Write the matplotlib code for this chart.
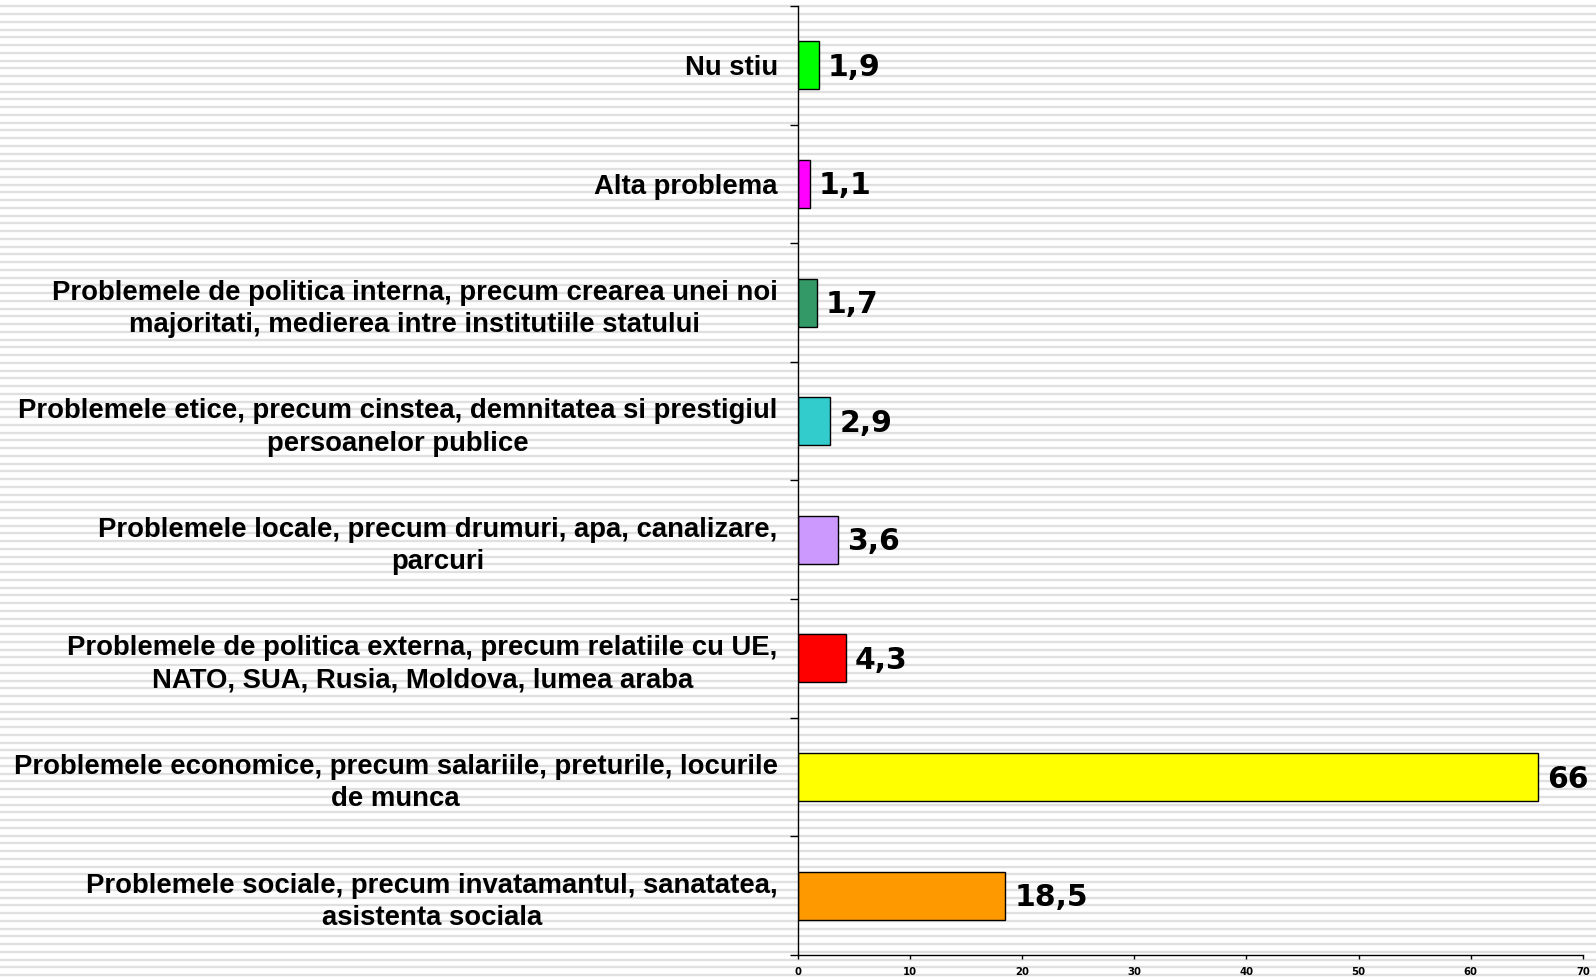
import numpy as np
import matplotlib.pyplot as plt

categories = [
    "Problemele sociale, precum invatamantul, sanatatea,\nasistenta sociala",
    "Problemele economice, precum salariile, preturile, locurile\nde munca",
    "Problemele de politica externa, precum relatiile cu UE,\nNATO, SUA, Rusia, Moldova, lumea araba",
    "Problemele locale, precum drumuri, apa, canalizare,\nparcuri",
    "Problemele etice, precum cinstea, demnitatea si prestigiul\npersoanelor publice",
    "Problemele de politica interna, precum crearea unei noi\nmajoritati, medierea intre institutiile statului",
    "Alta problema",
    "Nu stiu",
]
values = [18.5, 66, 4.3, 3.6, 2.9, 1.7, 1.1, 1.9]
value_labels = ["18,5", "66", "4,3", "3,6", "2,9", "1,7", "1,1", "1,9"]
colors = ["#FF9900", "#FFFF00", "#FF0000", "#CC99FF", "#33CCCC", "#339966", "#FF00FF", "#00FF00"]
xticks = [0, 10, 20, 30, 40, 50, 60, 70]

fig = plt.figure(figsize=(15.96, 9.77), dpi=100)

# striped background
bg = fig.add_axes([0, 0, 1, 1], zorder=0)
bg.set_xlim(0, 1)
bg.set_ylim(0, 977)
bg.hlines(np.arange(2, 977, 7.75), 0, 1, color="#e0e0e0", lw=1.7)
bg.axis("off")

ax = fig.add_axes([0.4998, 0.0225, 0.4920, 0.9714], zorder=1)
ax.patch.set_visible(False)
y = np.arange(len(values))
ax.barh(y, values, height=0.405, color=colors, edgecolor="black", linewidth=1.0)

for yi, v, lab in zip(y, values, value_labels):
    ax.text(v + 0.8, yi - 0.017, lab, va="center", ha="left", fontsize=21.5,
            fontweight="bold", family="DejaVu Sans")

ax.set_xlim(0, 70)
ax.set_ylim(-0.5, len(values) - 0.5)
ax.set_xticks(xticks)
ax.set_xticklabels([str(t) for t in xticks], fontsize=7.3, fontweight="bold",
                   family="DejaVu Sans")
ax.tick_params(axis="x", direction="out", length=3, width=1, pad=5.5)

ax.set_yticks(y)
ax.set_yticklabels(categories, fontsize=19.8, fontweight="bold",
                   family="Liberation Sans", linespacing=1.32)
for t in ax.get_yticklabels():
    t.set_multialignment("center")
ax.set_yticks(np.arange(-0.5, len(values)), minor=True)
ax.tick_params(axis="y", which="major", length=0, pad=14.4)
ax.tick_params(axis="y", which="minor", length=6, width=1, direction="out")

for s in ["top", "right"]:
    ax.spines[s].set_visible(False)
ax.spines["left"].set_linewidth(1.0)
ax.spines["bottom"].set_linewidth(1.0)

fig.savefig("out.png", dpi=100)
